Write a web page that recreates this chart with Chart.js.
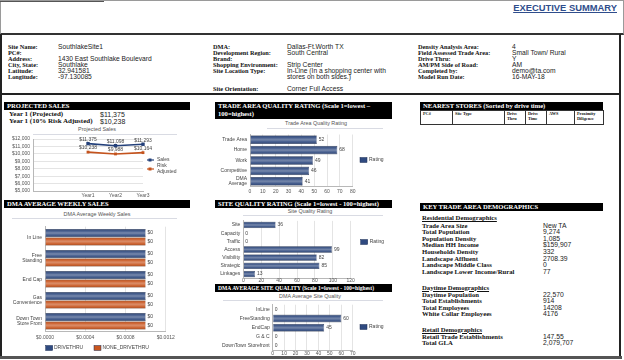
<!DOCTYPE html>
<html><head><meta charset="utf-8">
<script src="https://cdn.jsdelivr.net/npm/chart.js@4.4.1/dist/chart.umd.min.js"></script>
<style>
html,body{margin:0;padding:0;background:#fff;}
#page{position:relative;width:624px;height:360px;overflow:hidden;font-family:"Liberation Sans",Arial,sans-serif;}
.abs{position:absolute;white-space:nowrap;}
.lbl{font-family:"Liberation Serif","Times New Roman",serif;font-weight:bold;font-size:6.3px;line-height:7px;color:#111;}
.val{font-family:"Liberation Sans",Arial,sans-serif;font-size:6.7px;line-height:7px;color:#222;}
.dl{font-size:6.7px;}
.dv{font-size:6.8px;}
.big{font-size:7px;}
.hdr{position:absolute;background:#000;color:#fff;font-family:"Liberation Serif","Times New Roman",serif;font-weight:bold;font-size:6.6px;line-height:8px;padding-left:3px;box-sizing:border-box;white-space:nowrap;overflow:hidden;}
.ctitle{position:absolute;font-family:"Liberation Sans",Arial,sans-serif;font-size:5.4px;line-height:6px;color:#555;white-space:nowrap;transform:translateX(-50%);}
.rule{position:absolute;height:1px;background:#d9dbe3;}
.ul{text-decoration:underline;}
canvas{position:absolute;}
table.ns{position:absolute;border-collapse:collapse;table-layout:fixed;}
table.ns td{border:1px solid #333;font-family:"Liberation Serif",serif;font-weight:bold;font-size:4.3px;line-height:4.8px;vertical-align:top;padding:1px 2px;height:11px;color:#111;}
</style>
</head>
<body>
<div id="page">
  <!-- frames -->
  <div class="abs" style="left:0;top:0;width:622px;height:32px;border:1px solid #9a9a9a;border-bottom:2px solid #333;"></div>
  <div class="abs" style="left:0;top:1px;width:104px;height:1px;background:#555;"></div>
  <div class="abs ul" style="right:7px;top:2px;font-family:'Liberation Sans',Arial,sans-serif;font-weight:bold;font-size:9.4px;line-height:11px;color:#2f4d8c;">EXECUTIVE SUMMARY</div>
  <div class="abs" style="left:0;top:34px;width:2px;height:324px;background:#222;"></div>
  <div class="abs" style="left:619px;top:34px;width:2px;height:324px;background:#222;"></div>
  <div class="abs" style="left:0;top:93px;width:621px;height:2px;background:#222;"></div>
  <div class="abs" style="left:0;top:356px;width:622px;height:3px;background:#555;"></div>

  <!-- section headers -->
  <div class="hdr" style="left:4px;top:102px;width:186px;height:8px;">PROJECTED SALES</div>
  <div class="hdr" style="left:215px;top:102px;width:177px;height:17px;">TRADE AREA QUALITY RATING (Scale 1=lowest –<br>100=highest)</div>
  <div class="hdr" style="left:420px;top:102px;width:183px;height:8px;">NEAREST STORES (Sorted by drive time)</div>
  <div class="hdr" style="left:4px;top:200px;width:186px;height:8px;">DMA AVERAGE WEEKLY SALES</div>
  <div class="hdr" style="left:215px;top:200px;width:177px;height:8px;">SITE QUALITY RATING (Scale 1=lowest - 100=highest)</div>
  <div class="hdr" style="left:215px;top:284px;width:177px;height:8px;font-size:5.6px;">DMA AVERAGE SITE QUALITY (Scale 1=lowest - 100=highest)</div>
  <div class="hdr" style="left:420px;top:203px;width:183px;height:8px;">KEY TRADE AREA DEMOGRAPHICS</div>

  <table class="ns" style="left:420px;top:110px;width:183px;">
    <colgroup><col style="width:32px"><col style="width:52px"><col style="width:21px"><col style="width:21px"><col style="width:28px"><col style="width:29px"></colgroup>
    <tr><td>PC#</td><td>Site Type</td><td>Drive<br>Thru</td><td>Drive<br>Time</td><td>AWS</td><td>Proximity<br>Diligence</td></tr>
  </table>

  <!-- chart titles -->
  <div class="ctitle" style="left:97px;top:126px;">Projected Sales</div>
  <div class="rule" style="left:33px;top:134px;width:144px;"></div>
  <div class="ctitle" style="left:316px;top:120px;">Trade Area Quality Rating</div>
  <div class="rule" style="left:267px;top:128px;width:116px;"></div>
  <div class="ctitle" style="left:97px;top:211px;">DMA Average Weekly Sales</div>
  <div class="rule" style="left:12px;top:218px;width:165px;"></div>
  <div class="ctitle" style="left:310px;top:208px;">Site Quality Rating</div>
  <div class="rule" style="left:243px;top:215px;width:140px;"></div>
  <div class="ctitle" style="left:310px;top:293px;">DMA Average Site Quality</div>
  <div class="rule" style="left:223px;top:300px;width:160px;"></div>

  <canvas id="c1" width="185" height="66" style="left:5px;top:134px;"></canvas>
  <canvas id="c2" width="188" height="68" style="left:212px;top:130px;"></canvas>
  <canvas id="c3" width="187" height="138" style="left:3px;top:219px;"></canvas>
  <canvas id="c4" width="188" height="68" style="left:212px;top:216px;"></canvas>
  <canvas id="c5" width="188" height="57" style="left:212px;top:300px;"></canvas>
</div>

<script>
// ---------------- data ----------------
const salesYears = ['', '', 'Year1', 'Year2', 'Year3'];
const salesValues = [null, null, 11375, 11098, 11293];
const riskAdjustedValues = [null, null, 10238, 9988, 10164];

const tradeCategories = ['Trade Area', 'Home', 'Work', 'Competitive', ['DMA', 'Average']];
const tradeRatings = [52, 68, 49, 46, 41];

const dmaSiteTypes = ['In Line', ['Free', 'Standing'], 'End Cap', ['Gas', 'Convenience'], ['Down Town', 'Store Front']];
const driveThruSales = [0.001, 0.001, 0.001, 0.001, 0.001];
const noneDriveThruSales = [0.001, 0.001, 0.001, 0.001, 0.001];
const weeklyTicks = [0, 0.0004, 0.0008, 0.0012];

const siteCategories = ['Site', 'Capacity', 'Traffic', 'Access', 'Visibility', 'Strategic', 'Linkages'];
const siteRatings = [36, 0, 0, 99, 82, 85, 13];

const dmaQualityCategories = ['InLine', 'FreeStanding', 'EndCap', 'G & C', 'DownTown Storefront'];
const dmaQualityRatings = [0, 60, 45, 0, 0];

const infoCol1 = [['Site Name:', 'SouthlakeSite1'], ['PC#:', ''], ['Address:', '1430 East Southlake Boulevard'], ['City, State:', 'Southlake'], ['Latitude:', '32.941581'], ['Longitude:', '-97.130085']];
const infoCol2 = [['DMA:', 'Dallas-Ft.Worth TX'], ['Development Region:', 'South Central'], ['Brand:', ''], ['Shopping Environment:', 'Strip Center'], ['Site Location Type:', 'In-Line (In a shopping center with'], ['', 'stores on both sides.)']];
const infoCol2Last = ['Site Orientation:', 'Corner Full Access'];
const infoCol3 = [['Density Analysis Area:', '4'], ['Field Assessed Trade Area:', 'Small Town/ Rural'], ['Drive Thru:', 'Y'], ['AM/PM Side of Road:', 'AM'], ['Completed by:', 'demo@ta.com'], ['Model Run Date:', '16-MAY-18']];
const projectedRows = [['Year 1 (Projected)', '$11,375'], ['Year 1 (10% Risk Adjusted)', '$10,238']];

const residential = [['Trade Area Size', 'New  TA'], ['Total Population', '9,274'], ['Population Density', '1,085'], ['Median HH Income', '$159,907'], ['Households Density', '332'], ['Landscape Affluent', '2708.39'], ['Landscape Middle Class', '0'], ['Landscape Lower Income/Rural', '77']];
const daytime = [['Daytime Population', '22,570'], ['Total Establishments', '914'], ['Total Employees', '14208'], ['White Collar Employees', '4176']];
const retail = [['Retail Trade Establishments', '147.55'], ['Total GLA', '2,079,707']];

// ---------------- text layout ----------------
const page = document.getElementById('page');
function txt(x, yc, s, cls, style) {
  const d = document.createElement('div');
  d.className = 'abs ' + cls;
  d.style.left = x + 'px';
  d.style.top = (yc - 3.5) + 'px';
  d.textContent = s;
  if (style) Object.assign(d.style, style);
  page.appendChild(d);
  return d;
}
function rows(list, lx, vx, y0, step, lc, vc) {
  list.forEach((r, i) => {
    if (r[0]) txt(lx, y0 + i * step, r[0], 'lbl ' + (lc || ''));
    if (r[1]) txt(vx, y0 + i * step, r[1], 'val ' + (vc || ''));
  });
}
rows(infoCol1, 8, 58, 46, 6);
rows(infoCol2, 213, 287, 46, 6);
txt(213, 88.5, infoCol2Last[0], 'lbl'); txt(287, 88.5, infoCol2Last[1], 'val');
rows(infoCol3, 418, 512, 46, 6);
projectedRows.forEach((r, i) => { txt(9, 114 + i * 7.5, r[0], 'lbl big'); txt(100, 114 + i * 7.5, r[1], 'val big'); });

txt(422, 217.5, 'Residential Demographics', 'lbl dl ul');
rows(residential, 422, 543, 225, 6.6, 'dl', 'dv');
txt(422, 287, 'Daytime Demographics', 'lbl dl ul');
rows(daytime, 422, 543, 294, 6.5, 'dl', 'dv');
txt(422, 329, 'Retail Demographics', 'lbl dl ul');
rows(retail, 422, 543, 336, 6.6, 'dl', 'dv');

// ---------------- chart helpers ----------------
Chart.defaults.font.family = '"Liberation Sans", Arial, sans-serif';
Chart.defaults.font.size = 5;
Chart.defaults.color = '#555';
Chart.defaults.animation = false;
Chart.defaults.events = [];

const BLUE = '#2f4a80';
const ORANGE = '#c9561f';
const GRID = '#e4e4e4';
const AXIS = '#b8b8b8';

function fixW(w) { return s => { s.width = w; s.paddingTop = 0; s.paddingBottom = 0; }; }
function fixH(h) { return s => { s.height = h; s.paddingLeft = 0; s.paddingRight = 0; }; }

// bar shading overlay (uses element geometry from the library)
const barShade = {
  id: 'barShade',
  afterDatasetsDraw(chart) {
    const ctx = chart.ctx;
    ctx.save();
    chart.data.datasets.forEach((ds, di) => {
      const meta = chart.getDatasetMeta(di);
      if (meta.type !== 'bar') return;
      meta.data.forEach(el => {
        const p = el.getProps(['x', 'y', 'base', 'height'], true);
        const x0 = Math.min(p.base, p.x), x1 = Math.max(p.base, p.x);
        if (x1 - x0 < 0.5) return;
        const t = p.y - p.height / 2, b = p.y + p.height / 2;
        const g = ctx.createLinearGradient(0, t, 0, b);
        g.addColorStop(0, 'rgba(0,0,0,0.22)');
        g.addColorStop(0.25, 'rgba(255,255,255,0.10)');
        g.addColorStop(0.45, 'rgba(255,255,255,0.30)');
        g.addColorStop(0.55, 'rgba(255,255,255,0.30)');
        g.addColorStop(0.75, 'rgba(255,255,255,0.10)');
        g.addColorStop(1, 'rgba(0,0,0,0.22)');
        ctx.fillStyle = g;
        ctx.fillRect(x0, t, x1 - x0, b - t);
      });
    });
    ctx.restore();
  }
};

function valueLabels(fmt, mode) {
  return {
    id: 'valueLabels',
    afterDatasetsDraw(chart) {
      const ctx = chart.ctx;
      ctx.save();
      ctx.font = '5px "Liberation Sans", Arial, sans-serif';
      ctx.fillStyle = '#444';
      chart.data.datasets.forEach((ds, di) => {
        const meta = chart.getDatasetMeta(di);
        meta.data.forEach((el, i) => {
          const v = ds.data[i];
          if (v == null) return;
          const s = fmt(v);
          if (mode === 'bar') {
            ctx.textAlign = 'left'; ctx.textBaseline = 'middle';
            ctx.fillText(s, el.x + 2, el.y);
          } else {
            ctx.textAlign = 'center'; ctx.textBaseline = 'bottom';
            ctx.fillText(s, el.x, el.y - 1.5);
          }
        });
      });
      ctx.restore();
    }
  };
}

// legend drawn from dataset labels/colours at given anchor points
function sideLegend(items) {
  return {
    id: 'sideLegend',
    afterDraw(chart) {
      const ctx = chart.ctx;
      ctx.save();
      ctx.font = '5px "Liberation Sans", Arial, sans-serif';
      ctx.textBaseline = 'middle';
      ctx.textAlign = 'left';
      chart.data.datasets.forEach((ds, di) => {
        const it = items[di];
        if (!it) return;
        if (it.kind === 'line') {
          ctx.strokeStyle = ds.borderColor; ctx.lineWidth = 1.2;
          ctx.beginPath(); ctx.moveTo(it.x - 3, it.y); ctx.lineTo(it.x + 4, it.y); ctx.stroke();
          ctx.fillStyle = ds.borderColor; ctx.fillRect(it.x - 1.5, it.y - 1.5, 3, 3);
        } else {
          ctx.fillStyle = ds.backgroundColor; ctx.fillRect(it.x, it.y - 2.5, 7, 5);
          ctx.strokeStyle = '#1d2f55'; ctx.lineWidth = 0.5; ctx.strokeRect(it.x, it.y - 2.5, 7, 5);
        }
        ctx.fillStyle = '#444';
        const lines = it.wrap ? ds.label.split(' ') : [ds.label];
        const lh = 6;
        const y0 = it.y - (lines.length - 1) * lh / 2;
        lines.forEach((ln, k) => ctx.fillText(ln, it.tx, y0 + k * lh));
      });
      ctx.restore();
    }
  };
}

function hbarOptions(cfg) {
  return {
    responsive: false,
    indexAxis: 'y',
    layout: { padding: cfg.pad },
    plugins: { legend: { display: false }, tooltip: { enabled: false }, title: { display: false } },
    scales: {
      x: {
        min: cfg.min, max: cfg.max,
        afterFit: fixH(cfg.xh),
        afterBuildTicks: cfg.ticks ? (s => { s.ticks = cfg.ticks.map(v => ({ value: v })); }) : undefined,
        ticks: { stepSize: cfg.step, padding: cfg.tp, color: '#555', font: { size: 5 }, callback: cfg.xfmt || (v => v), maxRotation: 0, autoSkip: false },
        grid: { color: GRID, drawTicks: false },
        border: { color: AXIS }
      },
      y: {
        afterFit: fixW(cfg.yw),
        ticks: { padding: 3, color: '#444', font: { size: 5, lineHeight: 1.1 }, autoSkip: false },
        grid: { display: false, drawTicks: false },
        border: { color: AXIS }
      }
    }
  };
}

// ---------------- chart 1: projected sales ----------------
new Chart(document.getElementById('c1'), {
  type: 'line',
  data: {
    labels: salesYears,
    datasets: [
      { type: 'line', label: 'Sales', data: salesValues, borderColor: '#23407a', backgroundColor: '#23407a', borderWidth: 1.6, pointStyle: 'rect', pointRadius: 2.4, pointBackgroundColor: '#23407a', pointBorderWidth: 0, spanGaps: false },
      { type: 'line', label: 'Risk Adjusted', data: riskAdjustedValues, borderColor: '#c4531d', backgroundColor: '#c4531d', borderWidth: 1.6, pointStyle: 'rect', pointRadius: 2, pointBackgroundColor: '#c4531d', pointBorderWidth: 0, spanGaps: false }
    ]
  },
  options: {
    responsive: false,
    layout: { padding: { top: 5, left: 0, right: 47, bottom: 0 } },
    plugins: { legend: { display: false }, tooltip: { enabled: false } },
    scales: {
      x: { offset: false, afterFit: fixH(9), ticks: { padding: 2, color: '#555', font: { size: 5 }, autoSkip: false, maxRotation: 0 }, grid: { display: false, drawTicks: false }, border: { color: AXIS } },
      y: { min: 5000, max: 12000, afterFit: fixW(28), ticks: { stepSize: 1000, autoSkip: false, padding: 3, color: '#555', font: { size: 5 }, callback: v => '$' + v.toLocaleString('en-US') }, grid: { color: GRID, drawTicks: false }, border: { color: AXIS } }
    }
  },
  plugins: [valueLabels(v => '$' + v.toLocaleString('en-US'), 'point'), sideLegend([{ kind: 'line', x: 145, y: 26, tx: 152 }, { kind: 'line', x: 145, y: 35, tx: 152, wrap: true }])]
});

// ---------------- chart 2: trade area quality ----------------
new Chart(document.getElementById('c2'), {
  type: 'bar',
  data: { labels: tradeCategories, datasets: [{ label: 'Rating', data: tradeRatings, backgroundColor: BLUE, borderColor: '#1d2f55', borderWidth: 0.5, categoryPercentage: 0.9, barPercentage: 0.9 }] },
  options: hbarOptions({ pad: { top: 4.5, left: 0, right: 47.3, bottom: 2.5 }, min: 0, max: 80, step: 10, xh: 9, tp: 2, yw: 38 }),
  plugins: [barShade, valueLabels(v => String(v), 'bar'), sideLegend([{ kind: 'box', x: 148, y: 30, tx: 157 }])]
});

// ---------------- chart 3: DMA average weekly sales ----------------
new Chart(document.getElementById('c3'), {
  type: 'bar',
  data: {
    labels: dmaSiteTypes,
    datasets: [
      { label: 'DRIVETHRU', data: driveThruSales, backgroundColor: BLUE, borderColor: '#1d2f55', borderWidth: 0.5, categoryPercentage: 0.8, barPercentage: 0.95 },
      { label: 'NONE_DRIVETHRU', data: noneDriveThruSales, backgroundColor: ORANGE, borderColor: '#8e3a12', borderWidth: 0.5, categoryPercentage: 0.8, barPercentage: 0.95 }
    ]
  },
  options: hbarOptions({ pad: { top: 7.7, left: 0, right: 24.3, bottom: 15.3 }, min: 0, max: 0.0012, ticks: weeklyTicks, xh: 10, tp: 3, yw: 42, xfmt: v => '$' + Number(v).toFixed(4) }),
  plugins: [barShade, valueLabels(v => '$' + Math.round(v), 'bar'), sideLegend([{ kind: 'box', x: 42.7, y: 129, tx: 51 }, { kind: 'box', x: 91, y: 129, tx: 99.5 }])]
});

// ---------------- chart 4: site quality ----------------
new Chart(document.getElementById('c4'), {
  type: 'bar',
  data: { labels: siteCategories, datasets: [{ label: 'Rating', data: siteRatings, backgroundColor: BLUE, borderColor: '#1d2f55', borderWidth: 0.5, categoryPercentage: 0.85, barPercentage: 0.9 }] },
  options: hbarOptions({ pad: { top: 4.9, left: 0, right: 49.3, bottom: 0 }, min: 0, max: 120, step: 20, xh: 5.9, tp: 0, yw: 31.3 }),
  plugins: [barShade, valueLabels(v => String(v), 'bar'), sideLegend([{ kind: 'box', x: 148.7, y: 26, tx: 157.7 }])]
});

// ---------------- chart 5: DMA average site quality ----------------
new Chart(document.getElementById('c5'), {
  type: 'bar',
  data: { labels: dmaQualityCategories, datasets: [{ label: 'Rating', data: dmaQualityRatings, backgroundColor: BLUE, borderColor: '#1d2f55', borderWidth: 0.5, categoryPercentage: 0.9, barPercentage: 0.92 }] },
  options: hbarOptions({ pad: { top: 4.7, left: 0, right: 47.3, bottom: 0 }, min: 0, max: 70, step: 10, xh: 6.3, tp: 0, yw: 60.7 }),
  plugins: [barShade, valueLabels(v => String(v), 'bar'), sideLegend([{ kind: 'box', x: 148, y: 27, tx: 157 }])]
});
</script>
</body></html>
